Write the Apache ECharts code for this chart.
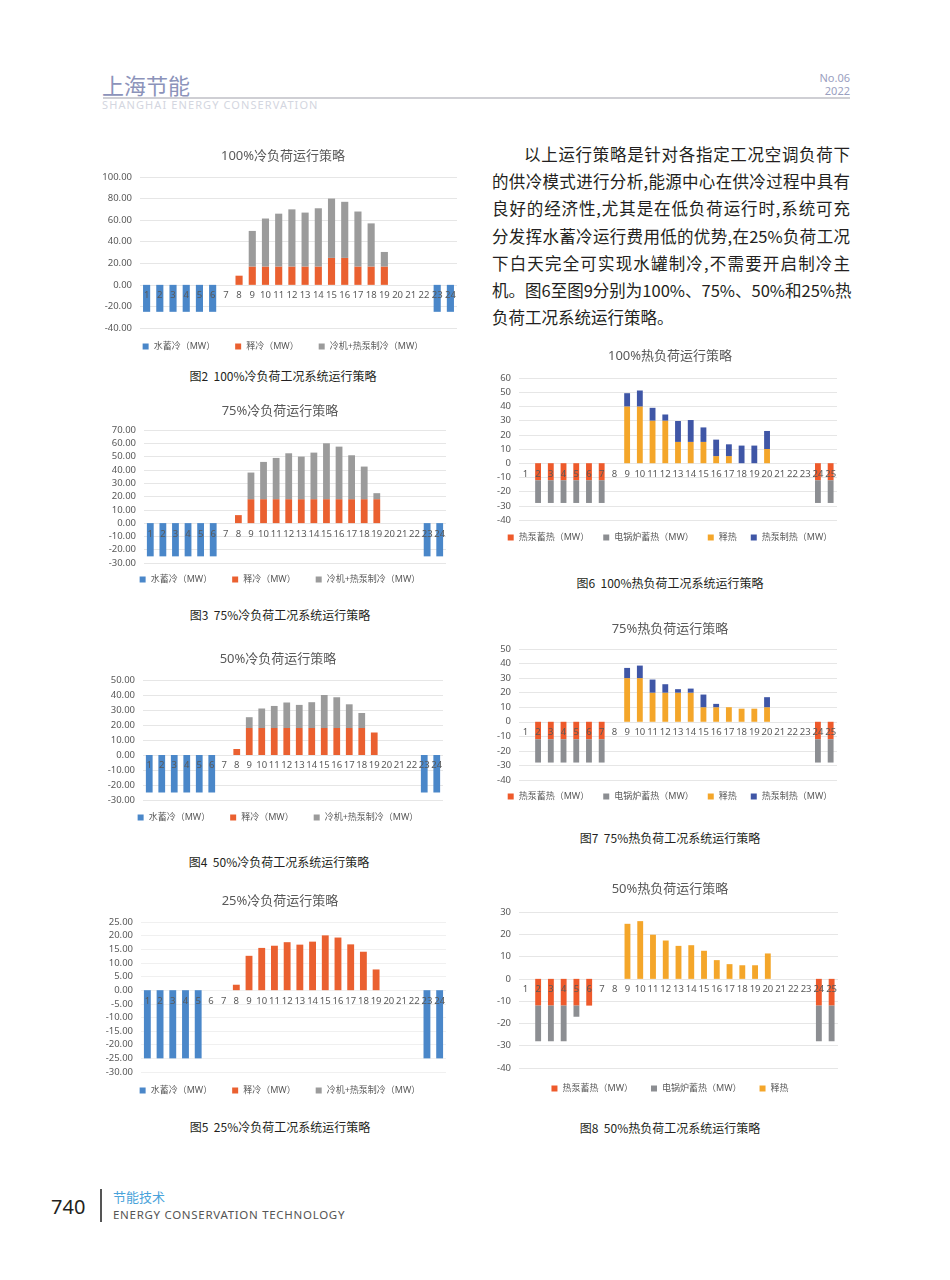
<!DOCTYPE html>
<html>
<head>
<meta charset="utf-8">
<script src="https://cdn.jsdelivr.net/npm/echarts@6/dist/echarts.min.js"></script>
<style>
body{margin:0;background:#fff;}
#page{position:relative;width:950px;height:1280px;overflow:hidden;background:#fff;font-family:"Noto Sans CJK SC","Noto Sans",sans-serif;}
.abs{position:absolute;white-space:nowrap;}
.cap{position:absolute;width:300px;text-align:center;font-size:12px;color:#231f20;line-height:16px;white-space:nowrap;}
.chart{position:absolute;}
.para{position:absolute;left:492px;top:141px;width:358px;font-size:16.5px;color:#231f20;line-height:27.2px;}
.para .j{text-align:justify;text-align-last:justify;white-space:nowrap;}
</style>
</head>
<body>
<div id="page">
  <!-- 页眉 -->
  <div class="abs" style="left:102px;top:70px;font-size:22px;color:#8c93ba;line-height:28px;">上海节能</div>
  <div class="abs" style="left:103px;top:97px;width:747px;height:1.5px;background:#cfcfd4;"></div>
  <div class="abs" style="left:102px;top:98px;font-size:11px;color:#d3d6e0;letter-spacing:1.1px;line-height:14px;font-family:'Noto Sans',sans-serif;">SHANGHAI ENERGY CONSERVATION</div>
  <div class="abs" style="right:100px;top:71px;font-size:11px;color:#9aa0bf;line-height:14px;text-align:right;font-family:'Noto Sans',sans-serif;">No.06</div>
  <div class="abs" style="right:100px;top:84px;font-size:11px;color:#9aa0bf;line-height:14px;text-align:right;font-family:'Noto Sans',sans-serif;">2022</div>

  <!-- 正文 -->
  <div class="para">
    <div class="j" style="padding-left:32px;">以上运行策略是针对各指定工况空调负荷下</div>
    <div class="j">的供冷模式进行分析,能源中心在供冷过程中具有</div>
    <div class="j">良好的经济性,尤其是在低负荷运行时,系统可充</div>
    <div class="j">分发挥水蓄冷运行费用低的优势,在25%负荷工况</div>
    <div class="j">下白天完全可实现水罐制冷,不需要开启制冷主</div>
    <div class="j">机。图6至图9分别为100%、75%、50%和25%热</div>
    <div>负荷工况系统运行策略。</div>
  </div>

  <!-- 图题 -->
  <div class="cap" style="left:133px;top:368px;">图2&nbsp;&nbsp;100%冷负荷工况系统运行策略</div>
  <div class="cap" style="left:130px;top:607px;">图3&nbsp;&nbsp;75%冷负荷工况系统运行策略</div>
  <div class="cap" style="left:129px;top:854px;">图4&nbsp;&nbsp;50%冷负荷工况系统运行策略</div>
  <div class="cap" style="left:130px;top:1119px;">图5&nbsp;&nbsp;25%冷负荷工况系统运行策略</div>
  <div class="cap" style="left:520px;top:575px;">图6&nbsp;&nbsp;100%热负荷工况系统运行策略</div>
  <div class="cap" style="left:520px;top:830px;">图7&nbsp;&nbsp;75%热负荷工况系统运行策略</div>
  <div class="cap" style="left:520px;top:1120px;">图8&nbsp;&nbsp;50%热负荷工况系统运行策略</div>

  <!-- 页脚 -->
  <div class="abs" style="left:51px;top:1194px;font-size:20px;color:#231f20;line-height:26px;font-family:'Noto Sans',sans-serif;">740</div>
  <div class="abs" style="left:100px;top:1189px;width:1.5px;height:33px;background:#555;"></div>
  <div class="abs" style="left:113px;top:1188px;font-size:13px;color:#4aa3da;line-height:18px;">节能技术</div>
  <div class="abs" style="left:113px;top:1207px;font-size:11.5px;color:#555;letter-spacing:0.7px;line-height:16px;font-family:'Noto Sans',sans-serif;">ENERGY CONSERVATION TECHNOLOGY</div>
</div>

<script>
var FONT = '"Noto Sans","Noto Sans CJK SC",sans-serif';

// 横轴小时
var hours24 = ['1','2','3','4','5','6','7','8','9','10','11','12','13','14','15','16','17','18','19','20','21','22','23','24'];
var hours25 = ['1','2','3','4','5','6','7','8','9','10','11','12','13','14','15','16','17','18','19','20','21','22','23','24','25'];

// 冷负荷 (MW)
var n = null;
var cold100Water   = [-25,-25,-25,-25,-25,-25,n,n,n,n,n,n,n,n,n,n,n,n,n,n,n,n,-25,-25];
var cold100Release = [n,n,n,n,n,n,n,8.5,17,17,17,17,17,17,25,25,17,17,17,n,n,n,n,n];
var cold100Chiller = [n,n,n,n,n,n,n,n,33,44.5,49,53,50,54,55,52,51,40,13.5,n,n,n,n,n];

var cold75Water    = [-25,-25,-25,-25,-25,-25,n,n,n,n,n,n,n,n,n,n,n,n,n,n,n,n,-25,-25];
var cold75Release  = [n,n,n,n,n,n,n,6,18,18,18,18,18,18,18,18,18,18,18,n,n,n,n,n];
var cold75Chiller  = [n,n,n,n,n,n,n,n,20,28,31,34.5,32,35,42,39.5,33,24.5,4.5,n,n,n,n,n];

var cold50Water    = [-25,-25,-25,-25,-25,-25,n,n,n,n,n,n,n,n,n,n,n,n,n,n,n,n,-25,-25];
var cold50Release  = [n,n,n,n,n,n,n,4,18,18,18,18,18,18,18,18,18,18,15,n,n,n,n,n];
var cold50Chiller  = [n,n,n,n,n,n,n,n,7.2,13,14.7,17,15.4,17.2,22,20.5,15.8,10,n,n,n,n,n,n];

var cold25Water    = [-25,-25,-25,-25,-25,n,n,n,n,n,n,n,n,n,n,n,n,n,n,n,n,n,-25,-25];
var cold25Release  = [n,n,n,n,n,n,n,2,12.6,15.5,16.3,17.6,16.7,17.8,20.1,19.3,16.8,14.1,7.6,n,n,n,n,n];
var cold25Chiller  = [n,n,n,n,n,n,n,n,n,n,n,n,n,n,n,n,n,n,n,n,n,n,n,n];

// 热负荷 (MW)
var heat100PumpStore  = [n,-12,-12,-12,-12,-12,-12,n,n,n,n,n,n,n,n,n,n,n,n,n,n,n,n,-12,-12];
var heat100Boiler     = [n,-16,-16,-16,-16,-16,-16,n,n,n,n,n,n,n,n,n,n,n,n,n,n,n,n,-16,-16];
var heat100Release    = [n,n,n,n,n,n,n,n,40,40,30,30,15,15,15,5,5,n,n,10,n,n,n,n,n];
var heat100PumpHeat   = [n,n,n,n,n,n,n,n,9.3,11.2,9,4.3,14.7,15.4,10.2,11.6,8.3,12.4,12.4,12.7,n,n,n,n,n];

var heat75PumpStore   = [n,-12,-12,-12,-12,-12,-12,n,n,n,n,n,n,n,n,n,n,n,n,n,n,n,n,-12,-12];
var heat75Boiler      = [n,-16,-16,-16,-16,-16,-16,n,n,n,n,n,n,n,n,n,n,n,n,n,n,n,n,-16,-16];
var heat75Release     = [n,n,n,n,n,n,n,n,30,30,20,20,20,20,10,10,10,9,9,10,n,n,n,n,n];
var heat75PumpHeat    = [n,n,n,n,n,n,n,n,7,8.6,9,5.8,2.4,2.8,8.7,2.3,n,n,n,6.9,n,n,n,n,n];

var heat50PumpStore   = [n,-12,-12,-12,-12,-12,n,n,n,n,n,n,n,n,n,n,n,n,n,n,n,n,n,-12,-12];
var heat50Boiler      = [n,-16,-16,-16,-5,n,n,n,n,n,n,n,n,n,n,n,n,n,n,n,n,n,n,-16,-16];
var heat50Release     = [n,n,n,n,n,n,n,n,24.7,25.9,19.8,17.2,14.8,15.1,12.6,8.4,6.6,6.1,6.1,11.4,n,n,n,n,n];

var page = document.getElementById('page');

// 画一个堆积柱状图, g 为页面上的位置
function makeChart(g, title, cats, series, yMin, yMax, step, decimals, barW, gap, gridColor){
	var y0 = g.titleY - 17;
	var h = g.legendY - y0 + 12;
	var plotH = g.plotB - g.plotT;
	// 横轴标签放在 0 线下面 (Excel 的样子)
	var zeroOffset = -plotH * (0 - yMin) / (yMax - yMin);
	var div = document.createElement('div');
	div.className = 'chart';
	div.style.left = g.x + 'px';
	div.style.top = y0 + 'px';
	div.style.width = g.w + 'px';
	div.style.height = h + 'px';
	page.appendChild(div);
	var chart = echarts.init(div);
	chart.setOption({
		animation: false,
		title: {
			text: title, left: 'center', top: 10, padding: 0,
			textStyle: {fontSize: 13, fontWeight: 'normal', color: '#595959', fontFamily: FONT}
		},
		legend: {
			left: 'center', top: g.legendY - y0 - 6, padding: 0,
			icon: 'rect', itemWidth: 6, itemHeight: 6, itemGap: gap,
			textStyle: {fontSize: 9, color: '#595959', fontFamily: FONT}
		},
		grid: {
			left: g.plotL - g.x, width: g.plotR - g.plotL,
			top: g.plotT - y0, height: plotH,
			containLabel: false, outerBoundsMode: 'none'
		},
		xAxis: {
			type: 'category', data: cats, z: 5, position: 'bottom', offset: zeroOffset,
			axisLine: {show: false, onZero: false},
			axisTick: {show: false},
			axisLabel: {interval: 0, margin: 6, fontSize: 9.5, color: '#595959', fontFamily: FONT}
		},
		yAxis: {
			type: 'value', min: yMin, max: yMax, interval: step,
			axisLine: {show: false}, axisTick: {show: false},
			splitLine: {lineStyle: {color: gridColor}},
			axisLabel: {
				margin: 8, fontSize: 9.5, color: '#595959', fontFamily: FONT,
				formatter: function(v){ return v.toFixed(decimals); }
			}
		},
		series: series.map(function(s){
			return {name: s.name, type: 'bar', stack: 'all', data: s.data, barWidth: barW,
				itemStyle: {color: s.color}};
		})
	});
}

function coldSeries(water, release, chiller){
	return [
		{name: '水蓄冷（MW）', data: water, color: '#4a87c9'},
		{name: '释冷（MW）', data: release, color: '#ea6030'},
		{name: '冷机+热泵制冷（MW）', data: chiller, color: '#9b9b9b'}
	];
}

makeChart({x:95, w:376, titleY:157, plotL:140, plotR:457, plotT:177, plotB:328, legendY:348},
	'100%冷负荷运行策略', hours24, coldSeries(cold100Water, cold100Release, cold100Chiller), -40, 100, 20, 2, '54%', 20, '#e6e6e6');
makeChart({x:95, w:370, titleY:412, plotL:144, plotR:446, plotT:430, plotB:563, legendY:581},
	'75%冷负荷运行策略', hours24, coldSeries(cold75Water, cold75Release, cold75Chiller), -30, 70, 10, 2, '54%', 20, '#e6e6e6');
makeChart({x:95, w:366, titleY:660, plotL:143, plotR:443, plotT:680, plotB:800, legendY:819},
	'50%冷负荷运行策略', hours24, coldSeries(cold50Water, cold50Release, cold50Chiller), -30, 50, 10, 2, '54%', 20, '#e6e6e6');
makeChart({x:95, w:370, titleY:902, plotL:141, plotR:446, plotT:922, plotB:1072, legendY:1092},
	'25%冷负荷运行策略', hours24, coldSeries(cold25Water, cold25Release, cold25Chiller), -30, 25, 5, 2, '54%', 20, '#f0f0f0');

makeChart({x:490, w:360, titleY:357, plotL:519, plotR:837, plotT:378, plotB:520, legendY:539},
	'100%热负荷运行策略', hours25, [
		{name: '热泵蓄热（MW）', data: heat100PumpStore, color: '#ee5a2b'},
		{name: '电锅炉蓄热（MW）', data: heat100Boiler, color: '#8c8e92'},
		{name: '释热', data: heat100Release, color: '#f4a62a'},
		{name: '热泵制热（MW）', data: heat100PumpHeat, color: '#3f56a6'}
	], -40, 60, 10, 0, '46%', 14, '#e6e6e6');
makeChart({x:490, w:360, titleY:630, plotL:519, plotR:837, plotT:649, plotB:780, legendY:798},
	'75%热负荷运行策略', hours25, [
		{name: '热泵蓄热（MW）', data: heat75PumpStore, color: '#ee5a2b'},
		{name: '电锅炉蓄热（MW）', data: heat75Boiler, color: '#8c8e92'},
		{name: '释热', data: heat75Release, color: '#f4a62a'},
		{name: '热泵制热（MW）', data: heat75PumpHeat, color: '#3f56a6'}
	], -40, 50, 10, 0, '46%', 14, '#e6e6e6');
makeChart({x:490, w:360, titleY:890, plotL:519, plotR:838, plotT:912, plotB:1068, legendY:1090},
	'50%热负荷运行策略', hours25, [
		{name: '热泵蓄热（MW）', data: heat50PumpStore, color: '#ee5a2b'},
		{name: '电锅炉蓄热（MW）', data: heat50Boiler, color: '#8c8e92'},
		{name: '释热', data: heat50Release, color: '#f4a62a'}
	], -40, 30, 10, 0, '46%', 18, '#e6e6e6');
</script>
</body>
</html>
